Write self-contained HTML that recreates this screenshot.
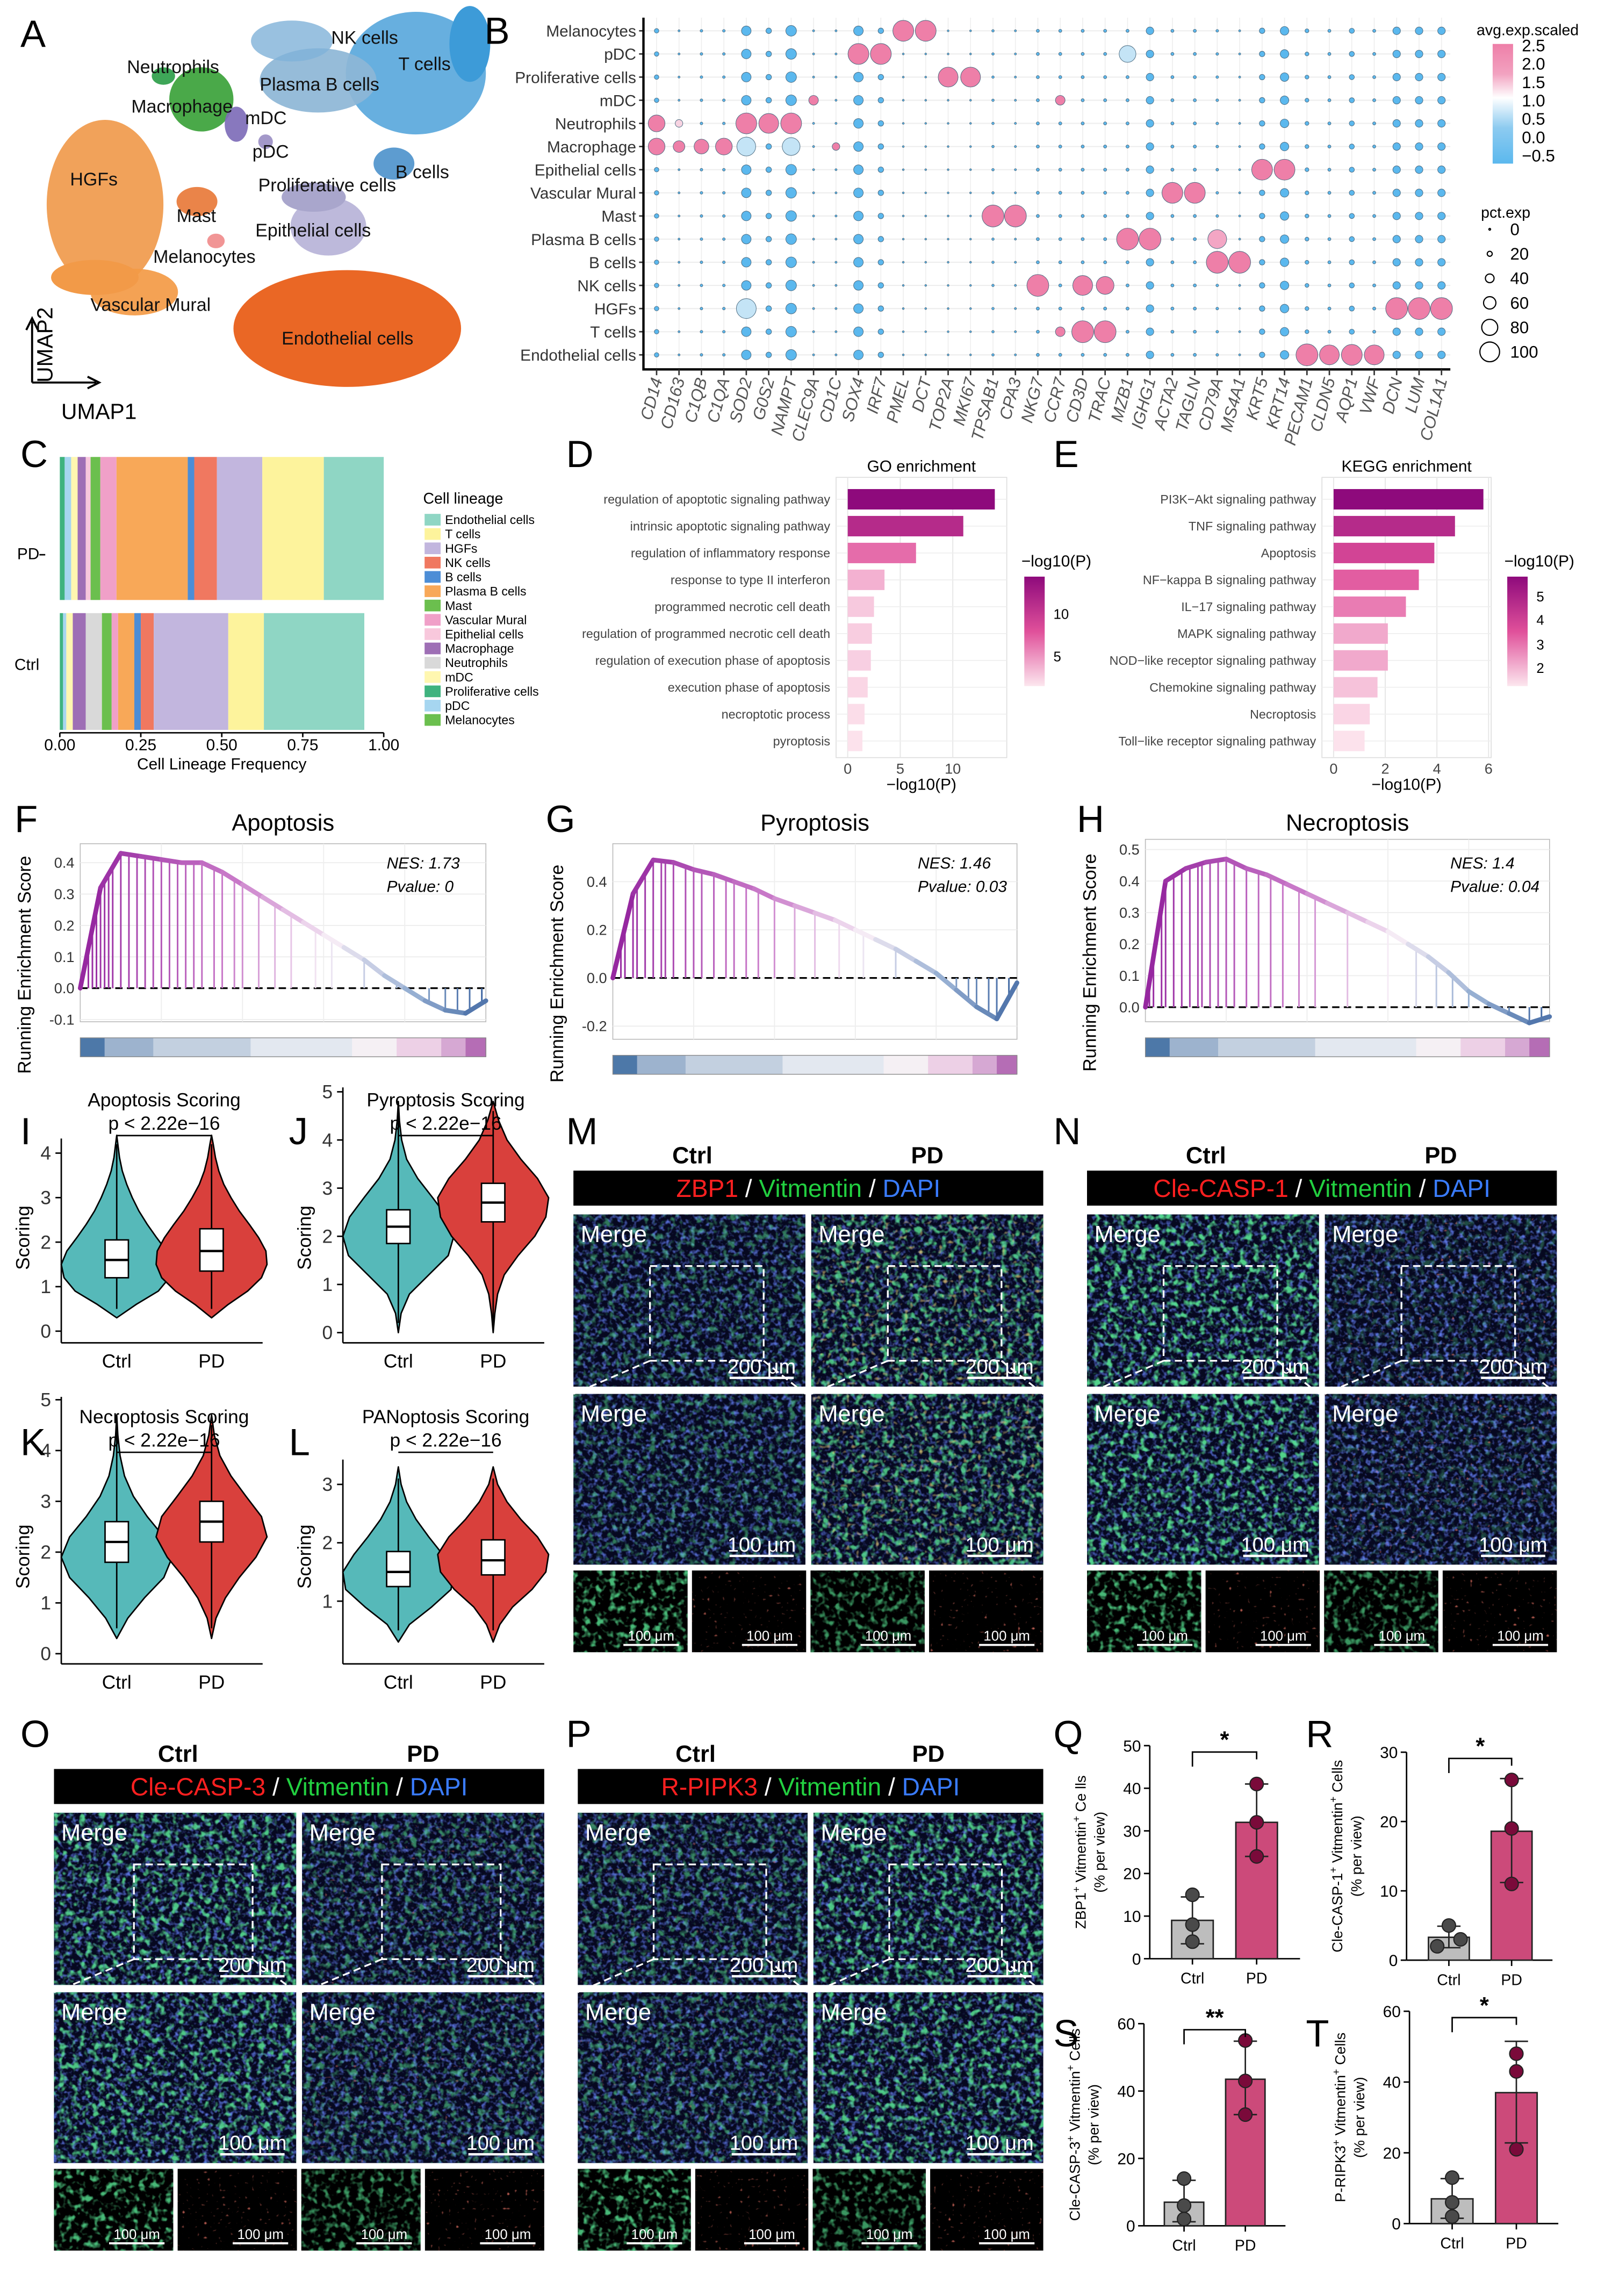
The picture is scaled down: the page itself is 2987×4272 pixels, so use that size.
<!DOCTYPE html>
<html><head><meta charset="utf-8"><style>
html,body{margin:0;padding:0;background:#fff}
svg{display:block;font-family:"Liberation Sans",Arial,sans-serif}
</style></head><body>
<svg id="fig" xmlns="http://www.w3.org/2000/svg" width="2987" height="4272" viewBox="0 0 1100 1573">
<defs>
<filter id="nG" x="0" y="0" width="100%" height="100%"><feTurbulence type="fractalNoise" baseFrequency="0.22" numOctaves="2" seed="3"/><feColorMatrix values="0 0 0 0 0.1  0 0 0 0 0.8  0 0 0 0 0.3  4 0 0 0 -2.0"/></filter>
<filter id="nB" x="0" y="0" width="100%" height="100%"><feTurbulence type="fractalNoise" baseFrequency="0.3" numOctaves="2" seed="7"/><feColorMatrix values="0 0 0 0 0.12  0 0 0 0 0.2  0 0 0 0 0.85  3 0 0 0 -1.45"/></filter>
<filter id="nR" x="0" y="0" width="100%" height="100%"><feTurbulence type="fractalNoise" baseFrequency="0.4" numOctaves="1" seed="11"/><feColorMatrix values="0 0 0 0 0.95  0 0 0 0 0.2  0 0 0 0 0.15  5 0 0 0 -3.4"/></filter>
<filter id="nO" x="0" y="0" width="100%" height="100%"><feTurbulence type="fractalNoise" baseFrequency="0.3" numOctaves="1" seed="5"/><feColorMatrix values="0 0 0 0 0.95  0 0 0 0 0.7  0 0 0 0 0.2  5 0 0 0 -3.1"/></filter>
<linearGradient id="cbB" x1="0" y1="0" x2="0" y2="1"><stop offset="0" stop-color="#EE7FA8"/><stop offset="0.25" stop-color="#F2A2C0"/><stop offset="0.45" stop-color="#ffffff"/><stop offset="0.7" stop-color="#8DCBF0"/><stop offset="1" stop-color="#5BB8EE"/></linearGradient>
<linearGradient id="cbD" x1="0" y1="0" x2="0" y2="1"><stop offset="0" stop-color="#8E0A7C"/><stop offset="0.5" stop-color="#E0509A"/><stop offset="1" stop-color="#FCE6EE"/></linearGradient>
</defs>
</svg>
<script>
const NS='http://www.w3.org/2000/svg';
const svg=document.getElementById('fig');
function mk(tag,a,p){const e=document.createElementNS(NS,tag);for(const k in a)e.setAttribute(k,a[k]);(p||svg).appendChild(e);return e;}
function tx(x,y,s,a,p){const e=mk('text',Object.assign({x:x,y:y},a||{}),p);e.textContent=s;return e;}
function grp(name){const g=mk('g',{});return g;}

/* ---------- A: UMAP ---------- */
const gA=grp('umap-panel');
const blobCol=['#5AA8DC','#8DB6D6','#4F94CC','#3BA23A','#7E6CB8','#9B8FC4','#B7B3D8','#F09A4C','#E8793A','#F08C8C','#F39A45','#E85A12','#2E9E4A'];
const blobCx=[285,218,270,138,162,182,225,72,135,148,92,238,112];
const blobCy=[50,55,112,68,85,97,155,140,138,165,200,225,52];
const blobRx=[48,40,14,22,8,5,26,40,14,6,30,78,8];
const blobRy=[42,22,11,22,12,5,20,58,10,5,16,40,6];
blobCx.forEach((cx,i)=>{const e=mk('ellipse',{cx:cx,cy:blobCy[i],rx:blobRx[i],ry:blobRy[i],fill:blobCol[i],opacity:0.92},gA);

});
mk('ellipse',{cx:322,cy:30,rx:14,ry:26,fill:'#3D9BD8'},gA);
mk('ellipse',{cx:200,cy:28,rx:28,ry:14,fill:'#7FB2D8',opacity:0.8},gA);
mk('ellipse',{cx:215,cy:135,rx:22,ry:10,fill:'#A9A6CC'},gA);
mk('ellipse',{cx:65,cy:190,rx:30,ry:12,fill:'#F29A48'},gA);
const umapLab=['NK cells','T cells','Plasma B cells','Neutrophils','Macrophage','mDC','pDC','HGFs','B cells','Proliferative cells','Mast','Epithelial cells','Melanocytes','Vascular Mural','Endothelial cells'];
const umapLx=[227,273,178,87,90,168,173,48,271,177,121,175,105,62,193];
const umapLy=[30,48,62,50,77,85,108,127,122,131,152,162,180,213,236];
umapLab.forEach((s,i)=>{const t=tx(umapLx[i],umapLy[i],s,{'font-size':12.5,fill:'#111'},gA);

});
mk('path',{d:'M22 262 V220 M18 226 L22 218 L26 226 M22 262 H66 M60 258 L68 262 L60 266',stroke:'#000','stroke-width':1.4,fill:'none'},gA);
tx(36,262,'UMAP2',{'font-size':15,transform:'rotate(-90 36 262)'},gA);
tx(42,287,'UMAP1',{'font-size':15},gA);

/* ---------- B: dot plot ---------- */
const gB=grp('dotplot-panel');
const cellRows=['Melanocytes','pDC','Proliferative cells','mDC','Neutrophils','Macrophage','Epithelial cells','Vascular Mural','Mast','Plasma B cells','B cells','NK cells','HGFs','T cells','Endothelial cells'];
const genes=['CD14','CD163','C1QB','C1QA','SOD2','G0S2','NAMPT','CLEC9A','CD1C','SOX4','IRF7','PMEL','DCT','TOP2A','MKI67','TPSAB1','CPA3','NKG7','CCR7','CD3D','TRAC','MZB1','IGHG1','ACTA2','TAGLN','CD79A','MS4A1','KRT5','KRT14','PECAM1','CLDN5','AQP1','VWF','DCN','LUM','COL1A1'];
const genePct=[15,3,6,6,40,20,45,3,3,40,20,2,2,2,2,5,3,8,8,8,8,8,30,8,8,6,3,20,35,12,8,18,8,30,30,30];
const hiRow=[0,0,1,1,1,2,2,3,3,4,4,4,4,4,5,5,5,5,5,5,5,6,6,7,7,8,8,9,9,9,10,10,11,11,11,12,12,12,12,13,13,13,14,14,14,14];
const hiCol=[11,12,9,10,21,13,14,7,18,0,1,4,5,6,0,1,2,3,4,6,8,27,28,23,24,15,16,21,22,25,25,26,17,19,20,33,34,35,4,19,20,18,29,30,31,32];
const hiPct=[95,95,95,95,75,90,90,40,40,75,30,95,90,95,75,50,65,75,85,80,30,95,95,95,95,100,100,100,100,85,100,100,100,90,80,100,100,100,90,100,100,40,100,90,95,90];
const hiExp=[2.5,2.5,2.4,2.4,0.6,2.4,2.4,2.0,2.0,2.4,1.1,2.5,2.4,2.4,2.3,2.1,2.4,2.4,0.6,0.7,2.0,2.4,2.4,2.4,2.4,2.4,2.4,2.4,2.4,1.6,2.4,2.4,2.4,2.3,2.3,2.4,2.4,2.4,0.6,2.4,2.4,2.0,2.4,2.4,2.4,2.4];
const bX0=450,bDx=15.37,bY0=21,bDy=15.86;
function bx(c){return bX0+c*bDx;} function by(r){return bY0+r*bDy;}
function rPct(p){return 0.5+p/100*7;}
function expCol(v){if(v>=1.9)return '#EE7FA8';if(v>=1.4)return '#F3A6C4';if(v>=1.0)return '#F7D3E1';if(v>=0.5)return '#C4E4F6';return '#5BB8EE';}
genes.forEach((g,c)=>{mk('line',{x1:bx(c),x2:bx(c),y1:12,y2:252,stroke:'#eee','stroke-width':0.6},gB);});
cellRows.forEach((r,i)=>{mk('line',{x1:441,x2:994,y1:by(i),y2:by(i),stroke:'#eee','stroke-width':0.8},gB);
const t=tx(436,by(i)+4,r,{'font-size':11,'text-anchor':'end',fill:'#333'},gB);


mk('line',{x1:438,x2:441,y1:by(i),y2:by(i),stroke:'#333'},gB);});
const hiSet={};hiRow.forEach((r,i)=>{hiSet[r+'_'+hiCol[i]]=i;});
cellRows.forEach((r,ri)=>{genes.forEach((g,ci)=>{
 const k=ri+'_'+ci; let p=genePct[ci], v=-0.3;
 if(k in hiSet){p=hiPct[hiSet[k]];v=hiExp[hiSet[k]];}
 const d=mk('circle',{cx:bx(ci),cy:by(ri),r:rPct(p),fill:expCol(v),stroke:'#4a6a80','stroke-width':0.35},gB);
 
 
});});
mk('path',{d:'M441 12 V253 H994',stroke:'#000','stroke-width':1.6,fill:'none'},gB);
genes.forEach((g,c)=>{mk('line',{x1:bx(c),x2:bx(c),y1:253,y2:257,stroke:'#333'},gB);
const t=tx(bx(c)+4,260,g,{'font-size':11.5,'font-style':'italic','text-anchor':'end',fill:'#555',transform:'rotate(-75 '+(bx(c)+4)+' 260)'},gB);

});
tx(1012,24,'avg.exp.scaled',{'font-size':10.5},gB);
mk('rect',{x:1023,y:30,width:14,height:82,fill:'url(#cbB)'},gB);
const cbLab=['2.5','2.0','1.5','1.0','0.5','0.0','\u22120.5'];
cbLab.forEach((s,i)=>{tx(1043,35+i*12.6,s,{'font-size':11.5},gB);});
tx(1015,149,'pct.exp',{'font-size':10.5},gB);
const pctLeg=[0,20,40,60,80,100];
pctLeg.forEach((p,i)=>{mk('circle',{cx:1021,cy:157+i*16.8,r:p==0?0.6:rPct(p)*0.9,fill:'none',stroke:'#000','stroke-width':0.8},gB);
tx(1035,161+i*16.8,String(p),{'font-size':11.5},gB);});

/* ---------- C: stacked bars ---------- */
const gC=grp('lineage-frequency-panel');
const segCol=['#3FB37F','#A6D6F0','#FFF7B0','#9E6FB5','#F8C8DC','#6BBF4E','#F0A0C8','#F8A858','#4C8DD6','#F07860','#C2B6DE','#FDF39C','#8FD6C4'];
const pdFreq=[0.015,0.02,0.02,0.025,0.015,0.03,0.05,0.22,0.02,0.07,0.14,0.19,0.185];
const ctrlFreq=[0.01,0.01,0.02,0.04,0.05,0.03,0.02,0.05,0.02,0.04,0.23,0.11,0.31];
const ctrlGrey=[0,0,0,0,1,0,0,0,0,0,0,0,0];
function cx(v){return 41+v*222;}
function stack(freqs,y,h,name){let acc=0;freqs.forEach((f,i)=>{let col=segCol[i];if(name==='ctrl'&&ctrlGrey[i])col='#D9D9D9';
const r=mk('rect',{x:cx(acc),y:y,width:f*222,height:h,fill:col},gC);

acc+=f;});}
stack(pdFreq,313,98,'pd');stack(ctrlFreq,420,80,'ctrl');
mk('line',{x1:41,x2:263,y1:502,y2:502,stroke:'#000'},gC);
['0.00','0.25','0.50','0.75','1.00'].forEach((s,i)=>{mk('line',{x1:cx(i*0.25),x2:cx(i*0.25),y1:502,y2:505,stroke:'#000'},gC);tx(cx(i*0.25),514,s,{'font-size':11,'text-anchor':'middle'},gC);});
tx(152,527,'Cell Lineage Frequency',{'font-size':11,'text-anchor':'middle'},gC);
tx(27,383,'PD',{'font-size':11,'text-anchor':'end'},gC);tx(27,459,'Ctrl',{'font-size':11,'text-anchor':'end'},gC);
mk('line',{x1:27,x2:31,y1:380,y2:380,stroke:'#000'},gC);
tx(290,345,'Cell lineage',{'font-size':10.5},gC);
const legNames=['Endothelial cells','T cells','HGFs','NK cells','B cells','Plasma B cells','Mast','Vascular Mural','Epithelial cells','Macrophage','Neutrophils','mDC','Proliferative cells','pDC','Melanocytes'];
const legCols=['#8FD6C4','#FDF39C','#C2B6DE','#F07860','#4C8DD6','#F8A858','#6BBF4E','#F0A0C8','#F8C8DC','#9E6FB5','#D9D9D9','#FFF7B0','#3FB37F','#A6D6F0','#6BBF4E'];
legNames.forEach((s,i)=>{mk('rect',{x:291,y:352+i*9.8,width:11,height:8,fill:legCols[i]},gC);
const t=tx(305,359+i*9.8,s,{'font-size':8.5},gC);

});

/* ---------- D/E: enrichment bars ---------- */
const goTerms=['regulation of apoptotic signaling pathway','intrinsic apoptotic signaling pathway','regulation of inflammatory response','response to type II interferon','programmed necrotic cell death','regulation of programmed necrotic cell death','regulation of execution phase of apoptosis','execution phase of apoptosis','necroptotic process','pyroptosis'];
const goVals=[14,11,6.5,3.5,2.5,2.3,2.2,1.9,1.6,1.4];
const goTicks=[0,5,10];
const keggTerms=['PI3K\u2212Akt signaling pathway','TNF signaling pathway','Apoptosis','NF\u2212kappa B signaling pathway','IL\u221217 signaling pathway','MAPK signaling pathway','NOD\u2212like receptor signaling pathway','Chemokine signaling pathway','Necroptosis','Toll\u2212like receptor signaling pathway'];
const keggVals=[5.8,4.7,3.9,3.3,2.8,2.1,2.1,1.7,1.4,1.2];
const keggTicks=[0,2,4,6];
function mixCol(t){const a=[142,10,124],m=[224,80,154],b=[252,226,236];let c;if(t>0.5){const u=(t-0.5)/0.5;c=m.map((v,i)=>v+(a[i]-v)*u);}else{const u=t/0.5;c=b.map((v,i)=>v+(m[i]-v)*u);}return 'rgb('+c.map(Math.round).join(',')+')';}
function enrich(name,x0,x1,unit,terms,vals,ticks,title,cbx,cbLabels,cbY){
 const g=grp(name);const sx=v=>x0+v*unit;
 mk('rect',{x:x0-8,y:327,width:x1-x0+8,height:192,fill:'#fff',stroke:'#ddd','stroke-width':0.6},g);
 ticks.forEach(t=>{mk('line',{x1:sx(t),x2:sx(t),y1:327,y2:519,stroke:'#e6e6e6','stroke-width':0.7},g);
  tx(sx(t),530,String(t),{'font-size':10,'text-anchor':'middle',fill:'#444'},g);});
 const vmax=Math.max(...vals),vmin=Math.min(...vals);
 terms.forEach((s,i)=>{const y=342+i*18.4;mk('line',{x1:x0-8,x2:x1,y1:y,y2:y,stroke:'#eee','stroke-width':0.6},g);
  const b=mk('rect',{x:x0,y:y-7,width:vals[i]*unit,height:14,fill:mixCol((vals[i]-vmin)/(vmax-vmin))},g);
  
  
  tx(x0-12,y+3,s,{'font-size':8.6,'text-anchor':'end',fill:'#444'},g);});
 tx((x0+x1)/2-4,323,title,{'font-size':11,'text-anchor':'middle'},g);
 tx((x0+x1)/2-4,541,'\u2212log10(P)',{'font-size':11,'text-anchor':'middle'},g);
 tx(cbx-2,388,'\u2212log10(P)',{'font-size':11},g);
 mk('rect',{x:cbx,y:395,width:14,height:75,fill:'url(#cbD)'},g);
 cbLabels.forEach((s,i)=>{tx(cbx+20,cbY[i]+4,s,{'font-size':9.5},g);});
}
enrich('go-enrichment-panel',581,690,7.2,goTerms,goVals,goTicks,'GO enrichment',702,['10','5'],[420,449]);
enrich('kegg-enrichment-panel',914,1022,17.7,keggTerms,keggVals,keggTicks,'KEGG enrichment',1033,['5','4','3','2'],[408,424,441,457]);

/* ---------- F/G/H: GSEA ---------- */
const fCurve=[0,0.32,0.43,0.42,0.41,0.40,0.40,0.37,0.33,0.29,0.25,0.21,0.17,0.13,0.09,0.04,0.0,-0.04,-0.07,-0.08,-0.04];
const fHits=[0.02,0.03,0.04,0.05,0.06,0.07,0.08,0.1,0.12,0.14,0.16,0.18,0.2,0.22,0.24,0.26,0.28,0.3,0.33,0.35,0.38,0.4,0.44,0.48,0.52,0.58,0.62,0.7,0.78,0.86,0.9,0.93,0.96,0.99];
const gCurve=[0,0.35,0.49,0.48,0.45,0.43,0.40,0.37,0.33,0.30,0.27,0.24,0.20,0.16,0.12,0.07,0.02,-0.05,-0.12,-0.17,-0.02];
const gHits=[0.02,0.03,0.05,0.06,0.08,0.1,0.12,0.13,0.15,0.18,0.2,0.22,0.25,0.28,0.3,0.33,0.36,0.4,0.45,0.5,0.56,0.62,0.7,0.85,0.88,0.9,0.93,0.95,0.98];
const hCurve=[0,0.4,0.44,0.46,0.47,0.44,0.42,0.39,0.36,0.33,0.30,0.27,0.24,0.20,0.16,0.11,0.05,0.01,-0.02,-0.05,-0.03];
const hHits=[0.01,0.02,0.04,0.05,0.07,0.09,0.11,0.13,0.14,0.16,0.18,0.2,0.22,0.25,0.28,0.31,0.34,0.38,0.42,0.5,0.6,0.67,0.72,0.76,0.8,0.85,0.9,0.95,0.98];
const fTicks=[0.4,0.3,0.2,0.1,0.0,-0.1],gTicks=[0.4,0.2,0.0,-0.2],hTicks=[0.5,0.4,0.3,0.2,0.1,0.0];
const heatCols=['#4D78A8','#9DB3CE','#C3D0E0','#E3E8F0','#F5F0F4','#EDD0E6','#D6A8D3','#B56DB5'];
const heatW=[0.06,0.12,0.24,0.25,0.11,0.11,0.06,0.05];
function gseaCol(f){const pts=[[0,[150,40,160]],[0.35,[200,120,200]],[0.6,[245,235,245]],[0.8,[150,175,210]],[1,[60,100,160]]];for(let i=1;i<pts.length;i++){if(f<=pts[i][0]){const u=(f-pts[i-1][0])/(pts[i][0]-pts[i-1][0]);const c=pts[i-1][1].map((v,k)=>Math.round(v+(pts[i][1][k]-v)*u));return 'rgb('+c.join(',')+')';}}return 'rgb(60,100,160)';}
function gsea(name,x0,x1,y0,y1,yA,yB,vA,vB,curve,hits,ticks,title,nes,pv){
 const g=grp(name);const sy=v=>yA+(v-vA)*(yB-yA)/(vB-vA);const sx=f=>x0+f*(x1-x0);
 mk('rect',{x:x0,y:y0,width:x1-x0,height:y1-y0,fill:'#fff',stroke:'#bbb','stroke-width':0.6},g);
 ticks.forEach(t=>{mk('line',{x1:x0,x2:x1,y1:sy(t),y2:sy(t),stroke:'#eee','stroke-width':0.7},g);
  tx(x0-4,sy(t)+3.5,t.toFixed(1),{'font-size':10,'text-anchor':'end',fill:'#333'},g);});
 [0.2,0.4,0.6,0.8].forEach(f=>mk('line',{x1:sx(f),x2:sx(f),y1:y0,y2:y1,stroke:'#eee','stroke-width':0.7},g));
 mk('line',{x1:x0,x2:x1,y1:sy(0),y2:sy(0),stroke:'#000','stroke-width':1.2,'stroke-dasharray':'5,3'},g);
 const cv=f=>{const p=f*(curve.length-1),i=Math.min(Math.floor(p),curve.length-2),u=p-i;return curve[i]+(curve[i+1]-curve[i])*u;};
 hits.forEach(h=>{const l=mk('line',{x1:sx(h),x2:sx(h),y1:sy(0),y2:sy(cv(h)),stroke:gseaCol(h),'stroke-width':1.1},g);
  
  });
 for(let i=0;i<curve.length-1;i++){const f=i/(curve.length-1),f2=(i+1)/(curve.length-1);
  const s=mk('line',{x1:sx(f),y1:sy(curve[i]),x2:sx(f2),y2:sy(curve[i+1]),stroke:gseaCol(f),'stroke-width':3.2,'stroke-linecap':'round'},g);
  
  }
 let acc=0;heatW.forEach((w,i)=>{mk('rect',{x:sx(acc),y:y1+11,width:w*(x1-x0)+0.3,height:13,fill:heatCols[i]},g);acc+=w;});
 mk('rect',{x:x0,y:y1+11,width:x1-x0,height:13,fill:'none',stroke:'#888','stroke-width':0.5},g);
 tx((x0+x1)/2,569,title,{'font-size':16,'text-anchor':'middle'},g);
 tx(x1-68,595,'NES: '+nes,{'font-size':11,'font-style':'italic'},g);
 tx(x1-68,611,'Pvalue: '+pv,{'font-size':11,'font-style':'italic'},g);
 const ly=(y0+y1)/2+22;
 tx(x0-34,ly,'Running Enrichment Score',{'font-size':12.5,'text-anchor':'middle',transform:'rotate(-90 '+(x0-34)+' '+ly+')'},g);
}
gsea('gsea-apoptosis',55,333,578,700,591,677,0.4,0.0,fCurve,fHits,fTicks,'Apoptosis','1.73','0');
gsea('gsea-pyroptosis',420,697,578,712,604,670,0.4,0.0,gCurve,gHits,gTicks,'Pyroptosis','1.46','0.03');
gsea('gsea-necroptosis',785,1062,575,700,582,690,0.5,0.0,hCurve,hHits,hTicks,'Necroptosis','1.4','0.04');

/* ---------- I-L: violins ---------- */
const vGridI=[0.3,0.6,0.9,1.2,1.5,1.8,2.1,2.4,2.7,3.0,3.3,3.6,3.9,4.2,4.4];
const vCtrlI=[0,0.35,0.75,0.95,1,0.9,0.72,0.55,0.4,0.28,0.18,0.1,0.05,0.02,0];
const vPdI=[0,0.3,0.65,0.9,1,0.98,0.85,0.68,0.5,0.35,0.22,0.13,0.07,0.03,0];
const vGridJ=[0.0,0.4,0.8,1.2,1.6,2.0,2.4,2.8,3.2,3.6,4.0,4.4,4.8];
const vCtrlJ=[0,0.05,0.2,0.55,0.9,1,0.88,0.62,0.35,0.15,0.06,0.02,0];
const vPdJ=[0,0.03,0.08,0.2,0.45,0.75,0.95,1,0.8,0.5,0.25,0.1,0];
const vGridK=[0.3,0.7,1.1,1.5,1.9,2.3,2.7,3.1,3.5,3.9,4.3,4.7];
const vCtrlK=[0,0.2,0.5,0.85,1,0.85,0.55,0.3,0.14,0.06,0.02,0];
const vPdK=[0,0.08,0.25,0.5,0.8,1,0.9,0.62,0.35,0.15,0.05,0];
const vGridL=[0.3,0.6,0.9,1.2,1.5,1.8,2.1,2.4,2.7,3.0,3.3];
const vCtrlL=[0,0.2,0.6,0.95,1,0.8,0.55,0.32,0.15,0.05,0];
const vPdL=[0,0.12,0.35,0.7,0.95,1,0.8,0.5,0.25,0.08,0];
const medI=[1.6,1.8],medJ=[2.2,2.7],medK=[2.2,2.6],medL=[1.5,1.7];
const qI=[[1.2,2.05],[1.35,2.3]],qJ=[[1.85,2.55],[2.3,3.1]],qK=[[1.8,2.6],[2.2,3.0]],qL=[[1.25,1.85],[1.45,2.05]];
const tI=[0,1,2,3,4],tJ=[0,1,2,3,4,5],tK=[0,1,2,3,4,5],tL=[1,2,3];
function violin(name,ax,ybot,y0v,unit,ticks,cc,pc,grid,dc,dp,med,q,title,topY,axTop){
 const g=grp(name);const sy=v=>y0v-v*unit;
 mk('line',{x1:ax,x2:ax,y1:axTop,y2:ybot,stroke:'#000','stroke-width':1},g);
 mk('line',{x1:ax,x2:ax+138,y1:ybot,y2:ybot,stroke:'#000','stroke-width':1},g);
 ticks.forEach(t=>{mk('line',{x1:ax-4,x2:ax,y1:sy(t),y2:sy(t),stroke:'#000'},g);
  tx(ax-7,sy(t)+4.5,String(t),{'font-size':13,'text-anchor':'end',fill:'#333'},g);});
 [[cc,dc,'#56B9B9',0],[pc,dp,'#D9403C',1]].forEach(([c,d,col,k])=>{
  let p='M'+c+' '+sy(grid[0]);
  grid.forEach((v,i)=>{p+=' L'+(c+d[i]*38)+' '+sy(v);});
  for(let i=grid.length-1;i>=0;i--)p+=' L'+(c-d[i]*38)+' '+sy(grid[i]);
  const v=mk('path',{d:p+'Z',fill:col,stroke:'#000','stroke-width':1,'stroke-linejoin':'round'},g);
  
  
  mk('line',{x1:c,x2:c,y1:sy(grid[0]+0.2),y2:sy(grid[grid.length-1]-0.2),stroke:'#000'},g);
  const b=mk('rect',{x:c-8,y:sy(q[k][1]),width:16,height:(q[k][1]-q[k][0])*unit,fill:'#fff',stroke:'#000','stroke-width':1},g);
  
  
  mk('line',{x1:c-8,x2:c+8,y1:sy(med[k]),y2:sy(med[k]),stroke:'#000','stroke-width':1.6},g);
  tx(c,ybot+17,k?'PD':'Ctrl',{'font-size':13,'text-anchor':'middle'},g);});
 tx((cc+pc)/2,topY-18,title,{'font-size':13,'text-anchor':'middle'},g);
 tx((cc+pc)/2,topY-2,'p < 2.22e\u221216',{'font-size':13,'text-anchor':'middle'},g);
 mk('line',{x1:cc,x2:pc,y1:topY+2,y2:topY+2,stroke:'#000'},g);
 tx(ax-22,(topY+ybot)/2,'Scoring',{'font-size':13,'text-anchor':'middle',transform:'rotate(-90 '+(ax-22)+' '+((topY+ybot)/2)+')'},g);
}
violin('violin-apoptosis',42,920,912,30.5,tI,80,145,vGridI,vCtrlI,vPdI,medI,qI,'Apoptosis Scoring',776,780);
violin('violin-pyroptosis',235,920,913,33,tJ,273,338,vGridJ,vCtrlJ,vPdJ,medJ,qJ,'Pyroptosis Scoring',776,745);
violin('violin-necroptosis',42,1140,1133,34.8,tK,80,145,vGridK,vCtrlK,vPdK,medK,qK,'Necroptosis Scoring',993,957);
violin('violin-panoptosis',235,1140,1137,40,tL,273,338,vGridL,vCtrlL,vPdL,medL,qL,'PANoptosis Scoring',993,1000);

/* ---------- M,N,O,P: micrographs ---------- */
function img(g,x,y,w,h,layers,label,scale,box){
 mk('rect',{x:x,y:y,width:w,height:h,fill:'#060820'},g);
 layers.forEach(L=>{mk('rect',{x:x,y:y,width:w,height:h,filter:'url(#'+L[0]+')',opacity:L[1]},g);});
 if(label){tx(x+5,y+19,label,{'font-size':16,fill:'#fff'},g);}
 if(scale){mk('line',{x1:x+w-52,x2:x+w-8,y1:y+h-6,y2:y+h-6,stroke:'#fff','stroke-width':1.6},g);
  tx(x+w-30,y+h-9,scale,{'font-size':label?14:9.5,fill:'#fff','text-anchor':'middle'},g);}
 if(box){mk('rect',{x:x+w*0.33,y:y+h*0.3,width:w*0.49,height:h*0.55,fill:'none',stroke:'#fff','stroke-width':1.2,'stroke-dasharray':'5,3'},g);}
}
function micro(name,x0,w,yh,marker,ctrlL,pdL){
 const g=grp(name);const half=(w-4)/2,q=(w-9)/4;
 tx(x0+half/2+2,yh-5,'Ctrl',{'font-size':16,'font-weight':'bold','text-anchor':'middle'},g);
 tx(x0+half*1.5+4,yh-5,'PD',{'font-size':16,'font-weight':'bold','text-anchor':'middle'},g);
 const hb=mk('rect',{x:x0,y:yh,width:w,height:24,fill:'#000'},g);
 
 
 const t=mk('text',{x:x0+w/2,y:yh+18,'font-size':17,'text-anchor':'middle'},g);
 [[marker,'#ff2020'],[' / ','#fff'],['Vitmentin','#22d040'],[' / ','#fff'],['DAPI','#3a7cff']].forEach(([s,c])=>{const ts=mk('tspan',{fill:c},t);ts.textContent=s;});
 const yt=yh+30,ym=yt+123,yb=ym+121;
 img(g,x0,yt,half,118,ctrlL,'Merge','200 \u03bcm',true);
 img(g,x0+half+4,yt,half,118,pdL,'Merge','200 \u03bcm',true);
 img(g,x0,ym,half,117,ctrlL,'Merge','100 \u03bcm',false);
 img(g,x0+half+4,ym,half,117,pdL,'Merge','100 \u03bcm',false);
 [x0,x0+half+4].forEach(xx=>{mk('path',{d:'M'+(xx+half*0.33)+' '+(yt+118*0.85)+' L'+xx+' '+ym+' M'+(xx+half*0.82)+' '+(yt+118*0.85)+' L'+(xx+half)+' '+ym,stroke:'#fff','stroke-width':1.2,'stroke-dasharray':'5,3',fill:'none'},g);});
 const bl=[[['nG',0.8]],[['nR',0.9]],[['nG',0.65]],[['nR',1]]];
 bl.forEach((L,i)=>{const bx=x0+i*(q+3);mk('rect',{x:bx,y:yb,width:q,height:56,fill:'#000'},g);
  L.forEach(l=>mk('rect',{x:bx,y:yb,width:q,height:56,filter:'url(#'+l[0]+')',opacity:l[1]},g));
  mk('line',{x1:bx+q-44,x2:bx+q-6,y1:yb+51,y2:yb+51,stroke:'#fff','stroke-width':1.4},g);
  tx(bx+q-25,yb+48,'100 \u03bcm',{'font-size':9.5,fill:'#fff','text-anchor':'middle'},g);});
}
micro('zbp1-micrographs',393,322,802,'ZBP1',[['nB',0.85],['nG',0.5]],[['nB',0.7],['nG',0.8],['nO',0.7]]);
micro('cle-casp1-micrographs',745,322,802,'Cle-CASP-1',[['nB',0.85],['nG',0.9]],[['nB',0.95],['nG',0.3],['nR',0.8]]);
micro('cle-casp3-micrographs',37,336,1212,'Cle-CASP-3',[['nB',0.9],['nG',0.85]],[['nB',0.85],['nG',0.55],['nR',0.6]]);
micro('rpipk3-micrographs',396,319,1212,'R-PIPK3',[['nB',0.85],['nG',0.55],['nR',0.5]],[['nB',0.85],['nG',0.85],['nR',0.4]]);

/* ---------- Q-T: bar charts ---------- */
const qMeans=[9,32],qPts=[[15,8,4],[41,32,24]],qErr=[[3.5,14.5],[24,41]],qTicks=[0,10,20,30,40,50];
const rMeans=[3.3,18.6],rPts=[[5,2,3],[26,19,11]],rErr=[[1.8,4.9],[11.2,26.2]],rTicks=[0,10,20,30];
const sMeans=[7,43.5],sPts=[[14,6,2],[55,43,33]],sErr=[[1.2,13.5],[33,54.8]],sTicks=[0,20,40,60];
const tMeans=[7,37],tPts=[[13,6,2],[48,43,21]],tErr=[[1.5,12.7],[22.8,51.5]],tTicks=[0,20,40,60];
function barChart(name,ax,y0,yTop,vTop,xEnd,bx,bw,means,pts,err,ticks,stars,ylab){
 const g=grp(name);const sy=v=>y0-(y0-yTop)*v/vTop;
 mk('line',{x1:ax,x2:ax,y1:yTop,y2:y0,stroke:'#000','stroke-width':1},g);
 mk('line',{x1:ax,x2:xEnd,y1:y0,y2:y0,stroke:'#000','stroke-width':1},g);
 ticks.forEach(t=>{mk('line',{x1:ax-4,x2:ax,y1:sy(t),y2:sy(t),stroke:'#000'},g);
  tx(ax-6,sy(t)+4,String(t),{'font-size':11,'text-anchor':'end'},g);});
 const cols=['#BDBDBD','#CC4A7A'],dots=['#4A4A4A','#7A0A3A'],labs=['Ctrl','PD'];
 means.forEach((m,k)=>{const x=bx[k],c=x+bw/2;
  const r=mk('rect',{x:x,y:sy(m),width:bw,height:y0-sy(m),fill:cols[k],stroke:'#222','stroke-width':1},g);
  
  
  mk('path',{d:'M'+c+' '+sy(err[k][0])+' V'+sy(err[k][1])+' M'+(c-8)+' '+sy(err[k][0])+' h16 M'+(c-8)+' '+sy(err[k][1])+' h16',stroke:'#222','stroke-width':1,fill:'none'},g);
  const off=[0,0,0];if(k===0&&name==='bar-cle-casp1'){off[1]=-8;off[2]=8;}
  pts[k].forEach((p,j)=>{const d=mk('circle',{cx:c+off[j],cy:sy(p),r:4.6,fill:dots[k],stroke:'#222','stroke-width':0.8},g);
   
   });
  mk('line',{x1:c,x2:c,y1:y0,y2:y0+4,stroke:'#000'},g);
  tx(c,y0+17,labs[k],{'font-size':10.5,'text-anchor':'middle'},g);});
 const c0=bx[0]+bw/2,c1=bx[1]+bw/2;
 const yb=sy(vTop*0.97);mk('path',{d:'M'+c0+' '+(yb+10)+' V'+yb+' H'+c1+' V'+(yb+5),stroke:'#000',fill:'none'},g);
 tx((c0+c1)/2,yb-3,stars,{'font-size':16,'font-weight':'bold','text-anchor':'middle'},g);
 const lx=ax-44,ly=(yTop+y0)/2;
 const t1=mk('text',{x:lx,y:ly,'font-size':10,'text-anchor':'middle',transform:'rotate(-90 '+lx+' '+ly+')'},g);
 const a=mk('tspan',{},t1);a.textContent=ylab[0];const s1=mk('tspan',{dy:-4,'font-size':7},t1);s1.textContent='+';
 const b=mk('tspan',{dy:4},t1);b.textContent=ylab[1];const s2=mk('tspan',{dy:-4,'font-size':7},t1);s2.textContent='+';
 const c3=mk('tspan',{dy:4},t1);c3.textContent=ylab[2];
 tx(lx+13,ly,'(% per view)',{'font-size':10,'text-anchor':'middle',transform:'rotate(-90 '+(lx+13)+' '+ly+')'},g);
}
barChart('bar-zbp1',788,1342,1196,50,891,[803,847],28.5,qMeans,qPts,qErr,qTicks,'*',['ZBP1',' Vitmentin',' Ce lls']);
barChart('bar-cle-casp1',964,1343,1200.5,30,1064,[979,1022],28,rMeans,rPts,rErr,rTicks,'*',['Cle-CASP-1',' Vitmentin',' Cells']);
barChart('bar-cle-casp3',784,1525,1386.5,60,881,[798,840],27,sMeans,sPts,sErr,sTicks,'**',['Cle-CASP-3',' Vitmentin',' Cells']);
barChart('bar-p-ripk3',966,1523.5,1378,60,1068,[981,1025],28.5,tMeans,tPts,tErr,tTicks,'*',['P-RIPK3',' Vitmentin',' Cells']);

/* ---------- panel letters (drawn last) ---------- */
const letters=['A','B','C','D','E','F','G','H','I','J','K','L','M','N','O','P','Q','R','S','T'];
const letterX=[14,332,14,388,722,10,374,738,14,198,14,198,388,722,14,388,722,895,722,895];
const letterY=[32,30,320,320,320,570,570,570,784,784,997,997,784,784,1197,1197,1197,1197,1402,1402];
const gL=grp('panel-letters');
letters.forEach((l,i)=>{const t=tx(letterX[i],letterY[i],l,{'font-size':26},gL);

});
</script>
</body></html>
